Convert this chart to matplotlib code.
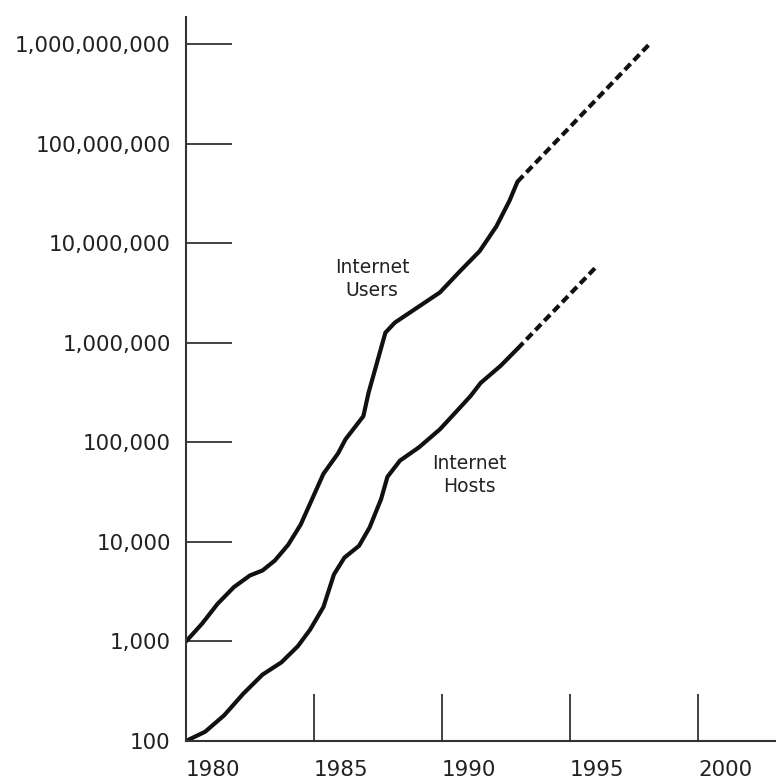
import matplotlib
matplotlib.use("Agg")
import matplotlib.pyplot as plt

# Internet users, measured
users_years = [1980.00, 1980.63, 1981.23, 1981.87, 1982.50, 1982.99, 1983.47,
               1983.99, 1984.48, 1984.96, 1985.37, 1985.94, 1986.23, 1986.93,
               1987.13, 1987.46, 1987.79, 1988.16, 1988.98, 1989.92, 1990.70,
               1991.47, 1992.13, 1992.64, 1992.95]
users_values = [1000, 1510, 2380, 3510, 4600, 5160, 6490,
                9330, 14900, 28100, 48300, 77300, 107000, 183000,
                313000, 628000, 1262000, 1592000, 2203000, 3199000, 5212000,
                8300000, 14800000, 26700000, 41400000]
# Internet users, projected
users_proj_years = [1992.95, 1998.19]
users_proj_values = [41400000, 1050000000]

# Internet hosts, measured
hosts_years = [1980.00, 1980.75, 1981.49, 1982.24, 1982.99, 1983.73, 1984.37,
               1984.85, 1985.37, 1985.78, 1986.19, 1986.76, 1987.17, 1987.62,
               1987.87, 1988.36, 1989.10, 1989.92, 1990.58, 1991.12, 1991.51,
               1992.29, 1992.95]
hosts_values = [100, 124, 181, 299, 464, 617, 896,
                1315, 2220, 4710, 6950, 9120, 13900, 26800,
                45000, 65500, 88900, 135000, 206000, 292000, 394000,
                586000, 869000]
# Internet hosts, projected
hosts_proj_years = [1992.95, 1996.06]
hosts_proj_values = [869000, 5900000]

y_ticks = [100, 1000, 10000, 100000, 1000000, 10000000, 100000000, 1000000000]
y_tick_labels = ["100", "1,000", "10,000", "100,000", "1,000,000",
                 "10,000,000", "100,000,000", "1,000,000,000"]
x_ticks = [1980, 1985, 1990, 1995, 2000]
x_tick_labels = ["1980", "1985", "1990", "1995", "2000"]

ink = "#111111"
axis_ink = "#333333"
text_ink = "#222222"

fig = plt.figure(figsize=(7.76, 7.83), dpi=100)
ax = fig.add_axes([186 / 776, 42 / 783, 1 - 186 / 776, (783 - 17 - 42) / 783])

ax.set_yscale("log")
ax.set_xlim(1980, 2003.05)
ax.set_ylim(100, 10 ** 9.271)

line_kw = dict(color=ink, lw=3.0, solid_capstyle="round", solid_joinstyle="round")
ax.plot(users_years, users_values, **line_kw)
ax.plot(hosts_years, hosts_values, **line_kw)
dash_kw = dict(color=ink, lw=3.0, dashes=(2.0, 1.1), dash_capstyle="butt")
ax.plot(users_proj_years, users_proj_values, **dash_kw)
ax.plot(hosts_proj_years, hosts_proj_values, **dash_kw)

ax.text(1987.27, 10 ** 6.64, "Internet\nUsers", ha="center", va="center",
        fontsize=13.5, color=text_ink, linespacing=1.3)
ax.text(1991.09, 10 ** 4.67, "Internet\nHosts", ha="center", va="center",
        fontsize=13.5, color=text_ink, linespacing=1.3)

for side in ("top", "right"):
    ax.spines[side].set_visible(False)
for side in ("left", "bottom"):
    ax.spines[side].set_color(axis_ink)
    ax.spines[side].set_linewidth(1.5)

ax.set_yticks(y_ticks)
ax.set_yticklabels(y_tick_labels)
ax.yaxis.set_minor_locator(matplotlib.ticker.NullLocator())
ax.set_xticks(x_ticks)
ax.set_xticklabels(x_tick_labels)

ax.tick_params(axis="y", direction="in", length=33, width=1.3, color=axis_ink,
               pad=11, labelsize=15.4, labelcolor=text_ink)
ax.tick_params(axis="x", direction="in", length=34, width=1.3, color=axis_ink,
               pad=14, labelsize=15.4, labelcolor=text_ink)
for lbl in ax.get_xticklabels():
    lbl.set_ha("left")

fig.savefig("out.png", dpi=100, facecolor="white")
